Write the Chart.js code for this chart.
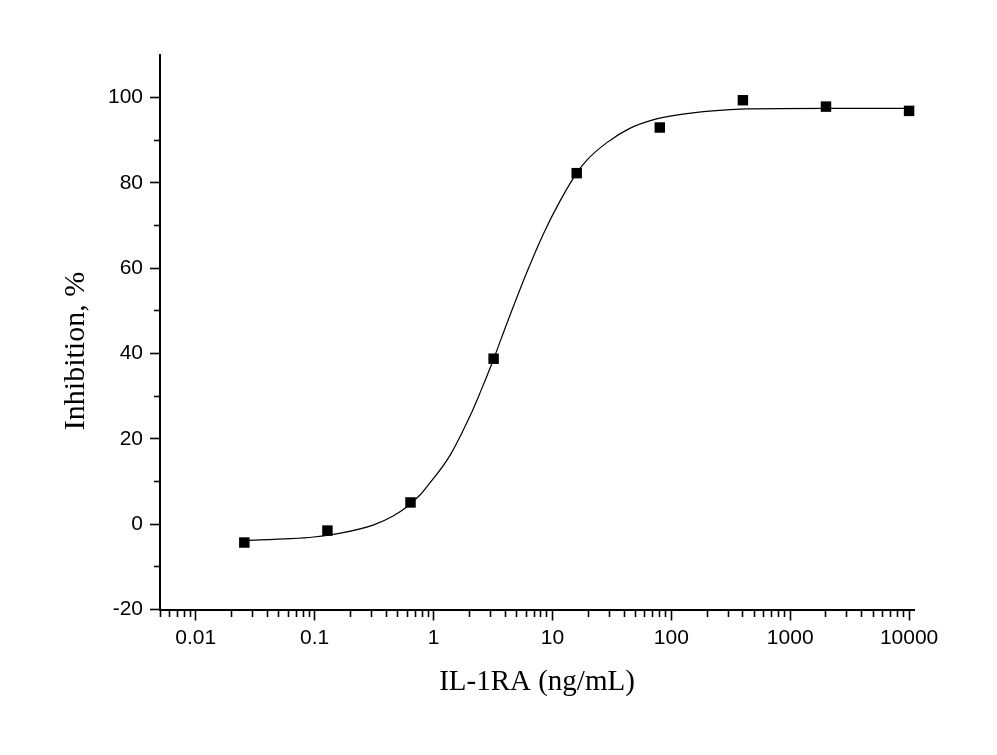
<!DOCTYPE html>
<html><head><meta charset="utf-8">
<script src="https://cdn.jsdelivr.net/npm/chart.js@4.4.1/dist/chart.umd.min.js"></script>
<style>html,body{margin:0;padding:0;background:#fff;}canvas{display:block;}</style>
</head><body>
<canvas id="c" width="997" height="755"></canvas>
<script>
// Measured data (concentration in ng/mL, inhibition %)
const concentrations = [0.0256, 0.128, 0.64, 3.2, 16, 80, 400, 2000, 10000];
const inhibition = [-4.3, -1.5, 5.1, 38.8, 82.3, 93.0, 99.4, 97.9, 96.9];

// Fitted curve
const fitConcentrations = [0.0256, 0.063, 0.098, 0.165, 0.314, 0.461, 0.579, 0.773, 0.881, 1.38, 2.03, 2.47, 3.09, 4.13, 6.08, 8.37, 11.6, 16.0, 19.4, 28.5, 44.7, 70.1, 117, 223, 426, 2000, 10000];
const fitInhibition = [-3.8, -3.4, -3.0, -2.1, -0.15, 2.0, 3.8, 6.9, 8.8, 16.2, 25.4, 30.9, 37.6, 47.0, 59.0, 68.0, 75.8, 82.3, 85.3, 89.4, 92.8, 94.8, 96.0, 96.9, 97.35, 97.5, 97.5];

// Tick labels
const xMajorTicks = [0.01, 0.1, 1, 10, 100, 1000, 10000];
const xTickLabels = ['0.01', '0.1', '1', '10', '100', '1000', '10000'];
const xLowMinorTicks = [0.005, 0.006, 0.007, 0.008, 0.009];
const xMinorMantissas = [2, 3, 4, 5, 6, 7, 8, 9];
const yMajorTicks = [-20, 0, 20, 40, 60, 80, 100];
const yTickLabels = ['-20', '0', '20', '40', '60', '80', '100'];
const yMinorTicks = [-10, 10, 30, 50, 70, 90];
const xAxisTitle = 'IL-1RA (ng/mL)';
const yAxisTitle = 'Inhibition, %';

const xTickValues = xLowMinorTicks.slice();
xMajorTicks.forEach((m, i) => {
  xTickValues.push(m);
  if (i < xMajorTicks.length - 1) xMinorMantissas.forEach(k => xTickValues.push(m * k));
});
const yTickValues = yMajorTicks.concat(yMinorTicks).sort((a, b) => a - b);

function xMajorIndex(v) { return xMajorTicks.findIndex(m => Math.abs(v / m - 1) < 1e-6); }
function yMajorIndex(v) { return yMajorTicks.findIndex(m => Math.abs(v - m) < 1e-6); }

const tickFont = { family: 'Liberation Sans', size: 21 };

new Chart(document.getElementById('c'), {
  type: 'scatter',
  data: {
    datasets: [
      {
        data: concentrations.map((x, i) => ({ x, y: inhibition[i] })),
        pointStyle: 'rect',
        pointRadius: 7.4,
        pointBackgroundColor: '#000',
        pointBorderWidth: 0,
        showLine: false
      },
      {
        data: fitConcentrations.map((x, i) => ({ x, y: fitInhibition[i] })),
        showLine: true,
        borderColor: '#000',
        borderWidth: 1.2,
        pointRadius: 0,
        cubicInterpolationMode: 'monotone',
        fill: false
      }
    ]
  },
  options: {
    responsive: false,
    animation: false,
    devicePixelRatio: 1,
    clip: false,
    layout: { padding: { left: 0, top: 55, right: 83, bottom: 0 } },
    plugins: { legend: { display: false }, tooltip: { enabled: false } },
    scales: {
      x: {
        type: 'logarithmic',
        position: 'bottom',
        min: 0.005,
        max: 11000,
        afterBuildTicks: s => { s.ticks = xTickValues.map(v => ({ value: v, major: xMajorIndex(v) >= 0 })); },
        afterFit: s => { s.height = 145.5; },
        border: { display: true, color: '#000', width: 2 },
        grid: {
          display: true,
          drawOnChartArea: false,
          drawTicks: true,
          tickLength: 11,
          tickWidth: 1.6,
          tickColor: '#000',
          tickBorderDash: ctx => (ctx.tick && xMajorIndex(ctx.tick.value) < 0) ? [6, 30] : []
        },
        ticks: {
          autoSkip: false,
          maxRotation: 0,
          minRotation: 0,
          padding: 5,
          color: '#000',
          font: tickFont,
          callback: v => { const i = xMajorIndex(v); return i >= 0 ? xTickLabels[i] : ''; }
        },
        title: {
          display: true,
          text: xAxisTitle,
          color: '#000',
          font: { family: 'Liberation Serif', size: 29 },
          padding: { top: 0, bottom: 55 }
        }
      },
      y: {
        type: 'linear',
        position: 'left',
        min: -20,
        max: 110,
        afterBuildTicks: s => { s.ticks = yTickValues.map(v => ({ value: v })); },
        afterFit: s => { s.width = 160; },
        border: { display: true, color: '#000', width: 2 },
        grid: {
          display: true,
          drawOnChartArea: false,
          drawTicks: true,
          tickLength: 10,
          tickWidth: 1.6,
          tickColor: '#000',
          tickBorderDash: ctx => (ctx.tick && yMajorIndex(ctx.tick.value) < 0) ? [5, 4] : [],
          tickBorderDashOffset: ctx => (ctx.tick && yMajorIndex(ctx.tick.value) < 0) ? 5 : 0
        },
        ticks: {
          autoSkip: false,
          padding: 7,
          color: '#000',
          font: tickFont,
          callback: v => { const i = yMajorIndex(v); return i >= 0 ? yTickLabels[i] : ''; }
        },
        title: {
          display: true,
          text: yAxisTitle + '\u00A0\u00A0\u00A0\u00A0\u00A0',
          color: '#000',
          font: { family: 'Liberation Serif', size: 30 },
          padding: { top: 58, bottom: 0 }
        }
      }
    }
  }
});
</script>
</body></html>
